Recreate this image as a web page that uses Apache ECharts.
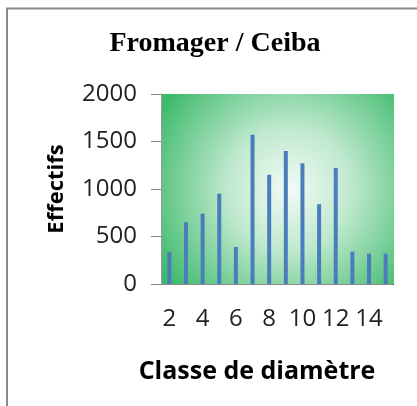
<!DOCTYPE html>
<html>
<head>
<meta charset="utf-8">
<script src="https://cdn.jsdelivr.net/npm/echarts@6/dist/echarts.min.js"></script>
<style>
  html, body { margin: 0; padding: 0; background: #ffffff; }
  #chart { width: 417px; height: 406px; }
</style>
</head>
<body>
<div id="chart"></div>
<script>
// Diameter classes and tree counts per class
const classes = ['2', '3', '4', '5', '6', '7', '8', '9', '10', '11', '12', '13', '14', '15'];
const counts = [340, 650, 740, 950, 390, 1570, 1150, 1400, 1270, 840, 1220, 340, 320, 320];
const yTicks = [0, 500, 1000, 1500, 2000];

const chart = echarts.init(document.getElementById('chart'), null, { renderer: 'canvas' });

const labelFont = '"Open Sans", "Liberation Sans", sans-serif';

chart.setOption({
  animation: false,
  backgroundColor: '#ffffff',
  title: {
    text: 'Fromager / Ceiba',
    left: 210,
    top: 25,
    textAlign: 'center',
    textStyle: {
      fontFamily: '"Liberation Serif", "DejaVu Serif", serif',
      fontWeight: 'bold',
      fontSize: 28,
      color: '#000000'
    }
  },
  graphic: [{
    type: 'rect',
    shape: { x: 7, y: 8.5, width: 430, height: 420 },
    style: { fill: 'none', stroke: '#8a8a8a', lineWidth: 2 },
    silent: true
  }],
  grid: {
    left: 161,
    top: 94,
    right: 23,
    bottom: 122,
    show: true,
    borderWidth: 0,
    backgroundColor: {
      type: 'radial',
      x: 0.55, y: 0.5, r: 0.8,
      colorStops: [
        { offset: 0, color: '#f2fbf5' },
        { offset: 0.4, color: '#c0e9cf' },
        { offset: 1, color: '#3cb96a' }
      ]
    }
  },
  xAxis: {
    type: 'category',
    data: classes,
    name: 'Classe de diamètre',
    nameLocation: 'middle',
    nameGap: 75,
    nameTextStyle: {
      fontFamily: labelFont,
      fontWeight: 'bold',
      fontSize: 25,
      color: '#000000',
      padding: [0, 41, 0, 0]
    },
    axisLine: { show: true, lineStyle: { color: '#888888', width: 1 } },
    axisTick: { show: false },
    axisLabel: {
      interval: 1,
      margin: 23,
      fontFamily: labelFont,
      fontSize: 24,
      color: '#222222'
    },
    splitLine: { show: false }
  },
  yAxis: {
    type: 'value',
    min: 0,
    max: 2000,
    interval: 500,
    name: 'Effectifs',
    nameLocation: 'middle',
    nameGap: 93,
    nameTextStyle: {
      fontFamily: labelFont,
      fontWeight: 'bold',
      fontSize: 22,
      color: '#000000'
    },
    axisLine: { show: true, lineStyle: { color: '#9a9a9a', width: 1 } },
    axisTick: { show: true, length: 10, lineStyle: { color: '#888888' } },
    axisLabel: {
      margin: 24,
      fontFamily: labelFont,
      fontSize: 24,
      color: '#222222',
      formatter: function (v) { return yTicks.indexOf(v) >= 0 ? String(v) : ''; }
    },
    splitLine: { show: false }
  },
  series: [{
    type: 'bar',
    data: counts,
    barWidth: 4,
    itemStyle: { color: '#4a7ebb' }
  }]
});
</script>
</body>
</html>
